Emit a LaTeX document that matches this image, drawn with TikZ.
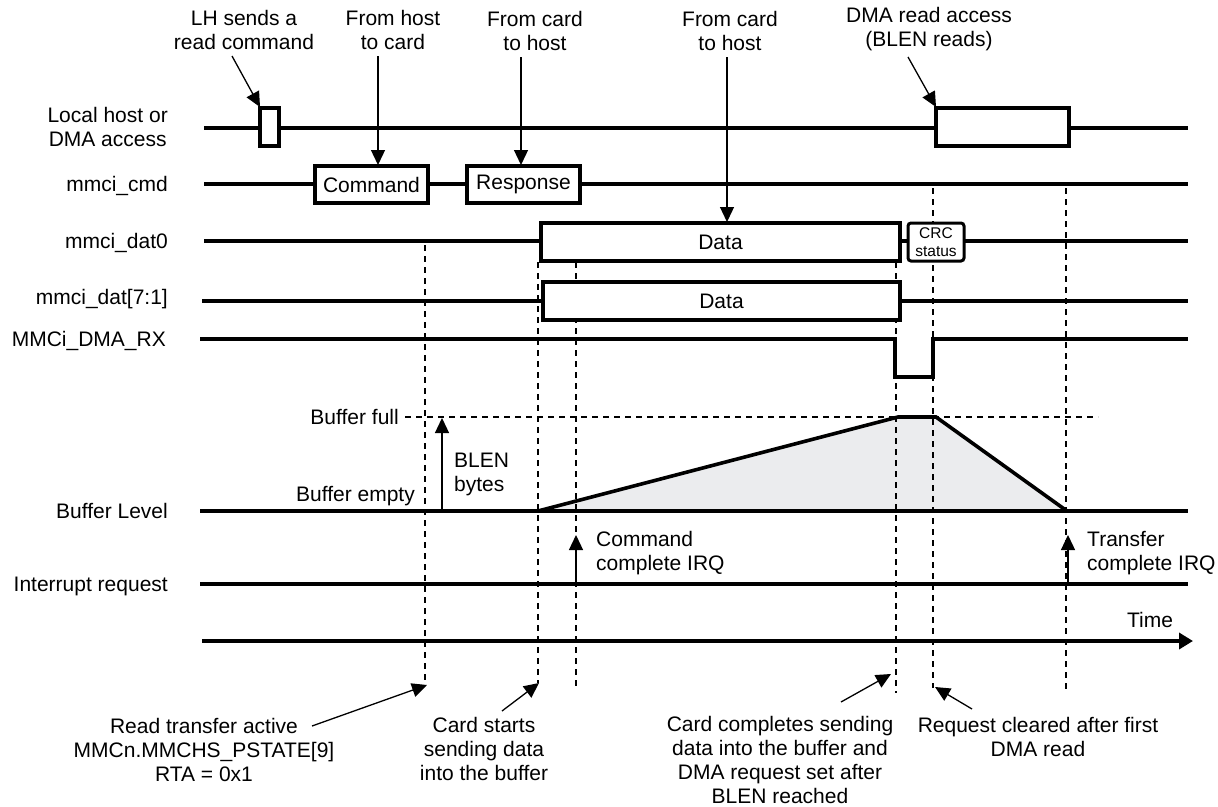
\documentclass[tikz,border=0pt]{standalone}
\usepackage{fontspec}
\setmainfont{Liberation Sans}
\usetikzlibrary{arrows.meta}
\definecolor{rampgray}{HTML}{EBECEE}
\begin{document}
\begin{tikzpicture}[x=1pt,y=-1pt,
  sig/.style={line width=3.6pt, line join=miter},
  sbox/.style={line width=3.6pt, fill=white},
  guide/.style={line width=1.2pt, dash pattern=on 6pt off 5pt},
  ptr/.style={line width=1.3pt, -{Triangle[length=15pt,width=14pt]}},
  tarrow/.style={line width=3.6pt, -{Triangle[length=14pt,width=16pt]}},
  txt/.style={font=\fontsize{21}{24}\selectfont, inner sep=0pt, align=center},
  small/.style={font=\fontsize{15.5}{18}\selectfont, inner sep=0pt, align=center},
]
\useasboundingbox (0,0) rectangle (1218,806);

% buffer ramp fill
\fill[rampgray] (538,511) -- (898,417) -- (936,417) -- (1067,511) -- cycle;

% guide (dashed) lines
\draw[guide] (425,245) -- (425,681);
\draw[guide] (538,262) -- (538,683);
\draw[guide] (576,262) -- (576,688);
\draw[guide] (896,262) -- (896,693);
\draw[guide] (933,188) -- (933,688);
\draw[guide] (1066,188) -- (1066,693);
\draw[guide] (405,417) -- (1098,417);

% Local host or DMA access
\draw[sig] (204,128) -- (260,128);
\draw[sbox] (260,108) rectangle (279,146);
\draw[sig] (279,128) -- (936,128);
\draw[sbox] (936,108) rectangle (1069,146);
\draw[sig] (1069,128) -- (1188,128);

% mmci_cmd
\draw[sig] (204,184) -- (315,184);
\draw[sbox] (315,166) rectangle (428,203) node[midway, txt] (cmd) {Command};
\draw[sig] (428,184) -- (467,184);
\draw[sbox] (467,166) rectangle (580,203) node[midway, txt] (rsp) {Response};
\draw[sig] (580,184) -- (1188,184);

% mmci_dat0
\draw[sig] (204,241) -- (541,241);
\draw[sbox] (541,223) rectangle (900,261) node[midway, txt] (d0) {Data};
\draw[sig] (900,241) -- (908,241);
\draw[sbox, line width=3pt, rounded corners=3pt] (908,223) rectangle (964,261) node[midway, small] (crc) {CRC\\status};
\draw[sig] (964,241) -- (1188,241);

% mmci_dat[7:1]
\draw[sig] (202,301) -- (543,301);
\draw[sbox] (543,282) rectangle (900,320) node[midway, txt] (d71) {Data};
\draw[sig] (900,301) -- (1188,301);

% MMCi_DMA_RX
\draw[sig] (200,339) -- (895,339) -- (895,377) -- (933,377) -- (933,339) -- (1188,339);

% Buffer level
\draw[sig] (200,511) -- (1188,511);
\draw[sig] (538,511) -- (898,417) -- (936,417) -- (1067,511);

% Interrupt request
\draw[sig] (200,584) -- (1188,584);

% Time axis
\draw[tarrow] (202,641) -- (1193,641);
\node[txt] (time) at (1150,620) {Time};

% left labels
\node[txt, anchor=east] (l1) at (168,126.5) {Local host or\\DMA access};
\node[txt, anchor=base east] (l2) at (168,191) {mmci\_cmd};
\node[txt, anchor=base east] (l3) at (168,248) {mmci\_dat0};
\node[txt, anchor=base east] (l4) at (168,304) {mmci\_dat[7:1]};
\node[txt, anchor=base east] (l5) at (166,346) {MMCi\_DMA\_RX};
\node[txt, anchor=base east] (l6) at (168,518) {Buffer Level};
\node[txt, anchor=base east] (l7) at (168,591) {Interrupt request};

% buffer annotations
\node[txt, anchor=base east] (bfull) at (399,424) {Buffer full};
\node[txt, anchor=base east] (bempty) at (415,501) {Buffer empty};
\draw[ptr] (442,511) -- (442,418);
\node[txt, anchor=west, align=left] (blen) at (454,474) {BLEN\\bytes};

% IRQs
\draw[ptr] (576,584) -- (576,535);
\node[txt, anchor=west, align=left] (cirq) at (596,553) {Command\\complete IRQ};
\draw[ptr] (1068,584) -- (1068,535);
\node[txt, anchor=west, align=left] (tirq) at (1087,553) {Transfer\\complete IRQ};

% top labels
\node[txt] (t1) at (244,30) {LH sends a\\read command};
\node[txt] (t2) at (393,30) {From host\\to card};
\node[txt] (t3) at (535,31) {From card\\to host};
\node[txt] (t4) at (730,31) {From card\\to host};
\node[txt] (t5) at (929,29) {DMA read access\\(BLEN reads)};
\draw[ptr] (232,56) -- (260,107);
\draw[ptr] (378,56) -- (378,165);
\draw[ptr] (521,57) -- (521,165);
\draw[ptr] (727,57) -- (727,222);
\draw[ptr] (908,57) -- (936,107);

% bottom labels
\node[txt] (b1) at (204,750) {Read transfer active\\MMCn.MMCHS\_PSTATE[9]\\RTA = 0x1};
\node[txt] (b2) at (484,749) {Card starts\\sending data\\into the buffer};
\node[txt] (b3) at (780,760) {Card completes sending\\data into the buffer and\\DMA request set after\\BLEN reached};
\node[txt] (b4) at (1038,737) {Request cleared after first\\DMA read};
\draw[ptr] (312,726) -- (427,685);
\draw[ptr] (502,711) -- (539,683);
\draw[ptr] (841,702) -- (891,674);
\draw[ptr] (972,709) -- (935,687);
\end{tikzpicture}
\end{document}
